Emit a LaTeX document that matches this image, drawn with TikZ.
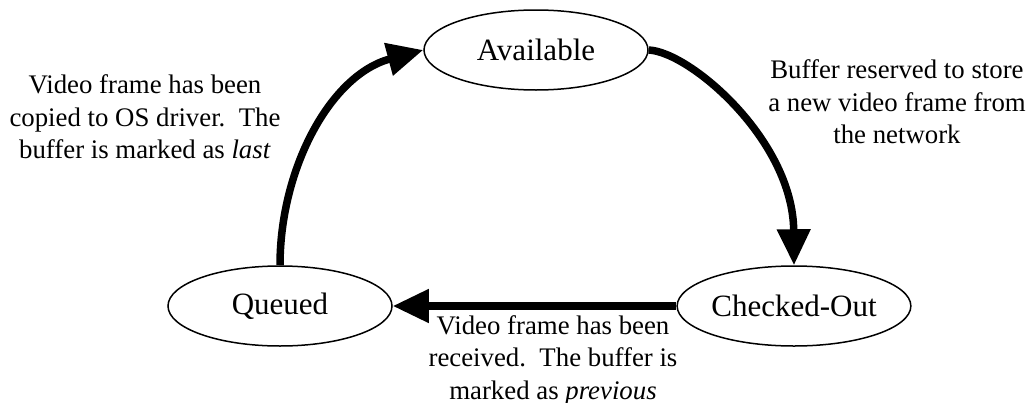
\documentclass[tikz,border=0pt]{standalone}
\usepackage{fontspec}
\setmainfont{Liberation Serif}
\usetikzlibrary{arrows.meta,shapes.geometric}

\tikzset{
  state/.style={draw, line width=0.75pt, ellipse, minimum width=112pt, minimum height=40pt,
    inner sep=0pt, font=\fontsize{15.5}{18}\selectfont},
  trans/.style={line width=3.75pt, -{Triangle[length=18pt, width=16pt]}},
  note/.style={align=center, inner sep=0pt, font=\fontsize{13.4}{16.25}\selectfont},
}

\begin{document}
\begin{tikzpicture}[x=0.5pt, y=-0.5pt]
  \useasboundingbox (0,0) rectangle (1029,402);

  % states
  \node[state] (avail)   at (536,50)  {Available};
  \node[state] (queued)  at (280,306) {Queued};
  \node[state] (checked) at (794,306) {Checked-Out};

  % transitions
  \draw[trans] (queued.north) .. controls ++(0,-96) and (330,75) .. (avail.west);
  \draw[trans] (avail.east) .. controls (690,52) and (793,140) .. (checked.north);
  \draw[trans] (checked.west) -- (queued.east);

  % transition labels
  \node[note] (lblcopied) at (145,117)
    {Video frame has been\\copied to OS driver.\ \ The\\buffer is marked as \textit{last}};
  \node[note] (lblreserved) at (897,102)
    {Buffer reserved to store\\a new video frame from\\the network};
  \node[note] (lblreceived) at (553,360)
    {Video frame has been\\received.\ \ The buffer is\\marked as \textit{previous}};
\end{tikzpicture}
\end{document}
